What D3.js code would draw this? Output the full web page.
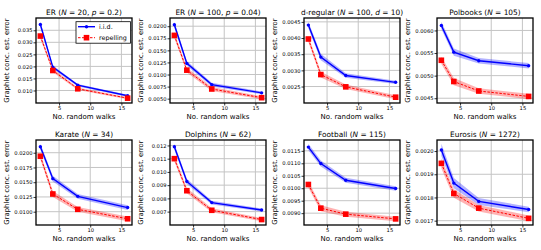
<!DOCTYPE html>
<html>
<head>
<meta charset="utf-8">
<script src="https://cdn.jsdelivr.net/npm/d3@7"></script>
<style>
body { margin: 0; background: #fff; }
svg { font-family: "DejaVu Sans", sans-serif; }
</style>
</head>
<body>
<div id="chart"></div>
<script>
// Data
const walks = [2, 4, 8, 16];
const xTicks = [5, 10, 15];

const titles = [
    "ER (N = 20, p = 0.2)", "ER (N = 100, p = 0.04)", "d-regular (N = 100, d = 10)", "Polbooks (N = 105)",
    "Karate (N = 34)", "Dolphins (N = 62)", "Football (N = 115)", "Eurosis (N = 1272)"
];

const iidMean = [
    [0.0374, 0.0197, 0.0122, 0.0078],
    [0.0203, 0.0123, 0.0079, 0.0062],
    [0.00440, 0.00341, 0.00284, 0.00263],
    [0.00611, 0.00552, 0.00533, 0.00522],
    [0.0210, 0.0156, 0.0126, 0.0107],
    [0.0119, 0.00928, 0.00768, 0.00712],
    [0.01165, 0.01099, 0.01032, 0.00999],
    [0.002005, 0.001862, 0.001783, 0.001748]
];
const iidErr = [
    [0.0011, 0.0007, 0.0005, 0.0004],
    [0.0006, 0.0005, 0.0004, 0.0003],
    [0.0001, 0.0001, 0.00007, 0.00005],
    [0.00008, 0.00008, 0.00006, 0.00006],
    [0.0005, 0.0005, 0.0004, 0.0004],
    [0.00022, 0.0002, 0.00015, 0.00012],
    [0.00013, 0.00012, 0.0001, 0.00009],
    [0.000026, 0.000022, 0.000015, 0.000012]
];
const repMean = [
    [0.0326, 0.0183, 0.0107, 0.0068],
    [0.0181, 0.0109, 0.0070, 0.0052],
    [0.00397, 0.00287, 0.00249, 0.00217],
    [0.00534, 0.00487, 0.00466, 0.00454],
    [0.0194, 0.0130, 0.0104, 0.0088],
    [0.0110, 0.00858, 0.00710, 0.00640],
    [0.01015, 0.00920, 0.00896, 0.00877],
    [0.001947, 0.001817, 0.001754, 0.001710]
];
const repErr = [
    [0.0011, 0.0007, 0.0005, 0.0004],
    [0.0006, 0.0005, 0.0004, 0.0003],
    [0.00009, 0.00009, 0.00007, 0.00006],
    [0.00008, 0.00008, 0.00006, 0.00006],
    [0.0005, 0.0005, 0.0004, 0.0004],
    [0.00022, 0.0002, 0.00015, 0.00012],
    [0.00013, 0.00012, 0.0001, 0.00009],
    [0.000022, 0.000018, 0.000014, 0.000012]
];
const yTickLabels = [
    ["0.010", "0.015", "0.020", "0.025", "0.030", "0.035"],
    ["0.0050", "0.0075", "0.0100", "0.0125", "0.0150", "0.0175", "0.0200"],
    ["0.0025", "0.0030", "0.0035", "0.0040", "0.0045"],
    ["0.0045", "0.0050", "0.0055", "0.0060"],
    ["0.0100", "0.0125", "0.0150", "0.0175", "0.0200"],
    ["0.007", "0.008", "0.009", "0.010", "0.011", "0.012"],
    ["0.0090", "0.0095", "0.0100", "0.0105", "0.0110", "0.0115"],
    ["0.0017", "0.0018", "0.0019", "0.0020"]
];
const seriesNames = ["i.i.d.", "repelling"];

// Layout
const canvas = { w: 541, h: 250 };
const lefts = [36, 170, 304, 437];
const tops = [18, 140];
const pw = 96, ph = 85;
const blue = "#0000ff", red = "#ff0000";

const svg = d3.select("#chart")
    .append("svg")
    .attr("width", canvas.w)
    .attr("height", canvas.h);

const x = d3.scaleLinear().domain([1.3, 16.7]).range([0, pw]);

titles.forEach((title, i) => {
    const col = i % 4, row = Math.floor(i / 4);
    const g = svg.append("g")
        .attr("transform", `translate(${lefts[col]},${tops[row]})`);

    const lo = d3.min([...iidMean[i].map((m, j) => m - iidErr[i][j]), ...repMean[i].map((m, j) => m - repErr[i][j])]);
    const hi = d3.max([...iidMean[i].map((m, j) => m + iidErr[i][j]), ...repMean[i].map((m, j) => m + repErr[i][j])]);
    const pad = (hi - lo) * 0.05;
    const y = d3.scaleLinear().domain([lo - pad, hi + pad]).range([ph, 0]);
    const yVals = yTickLabels[i].map(Number);

    // grid
    g.append("g").selectAll("line").data(xTicks).join("line")
        .attr("x1", d => x(d)).attr("x2", d => x(d))
        .attr("y1", 0).attr("y2", ph)
        .attr("stroke", "#c4c4c4").attr("stroke-width", 1);
    g.append("g").selectAll("line").data(yVals).join("line")
        .attr("y1", d => y(d)).attr("y2", d => y(d))
        .attr("x1", 0).attr("x2", pw)
        .attr("stroke", "#c4c4c4").attr("stroke-width", 1);

    const series = [
        { mean: iidMean[i], err: iidErr[i], color: blue, dash: null, w: 1.4 },
        { mean: repMean[i], err: repErr[i], color: red, dash: "2.5,1.5", w: 1 }
    ];

    series.forEach(s => {
        const pts = walks.map((w, j) => ({ w, m: s.mean[j], e: s.err[j] }));
        g.append("path")
            .datum(pts)
            .attr("d", d3.area().x(d => x(d.w)).y0(d => y(d.m - d.e)).y1(d => y(d.m + d.e)))
            .attr("fill", s.color).attr("fill-opacity", 0.3);
    });

    series.forEach((s, k) => {
        const pts = walks.map((w, j) => ({ w, m: s.mean[j] }));
        g.append("path")
            .datum(pts)
            .attr("d", d3.line().x(d => x(d.w)).y(d => y(d.m)))
            .attr("fill", "none")
            .attr("stroke", s.color)
            .attr("stroke-width", s.w)
            .attr("stroke-dasharray", s.dash);
        if (k === 0) {
            g.append("g").selectAll("circle").data(pts).join("circle")
                .attr("cx", d => x(d.w)).attr("cy", d => y(d.m))
                .attr("r", 1.7).attr("fill", s.color);
        } else {
            g.append("g").selectAll("rect").data(pts).join("rect")
                .attr("x", d => x(d.w) - 2.8).attr("y", d => y(d.m) - 2.8)
                .attr("width", 5.6).attr("height", 5.6).attr("fill", s.color);
        }
    });

    // frame
    g.append("rect")
        .attr("width", pw).attr("height", ph)
        .attr("fill", "none").attr("stroke", "#000").attr("stroke-width", 1.3);

    // axes
    const ax = g.append("g")
        .attr("transform", `translate(0,${ph})`)
        .call(d3.axisBottom(x).tickValues(xTicks).tickSize(2.5).tickPadding(1.3));
    const ay = g.append("g")
        .call(d3.axisLeft(y).tickValues(yVals).tickFormat((d, j) => yTickLabels[i][j]).tickSize(2.5).tickPadding(1));
    [ax, ay].forEach(a => {
        a.select(".domain").remove();
        a.selectAll("line").attr("stroke", "#000").attr("stroke-width", 0.8);
        a.selectAll("text").attr("font-size", 5.2).attr("font-family", "DejaVu Sans").attr("fill", "#000");
    });

    // title with italic symbols
    const t = g.append("text")
        .attr("x", pw / 2).attr("y", -3.3)
        .attr("text-anchor", "middle")
        .attr("font-size", 7.4);
    title.split(/([Npd])(?= =)/).forEach((part, j) => {
        if (!part) return;
        t.append("tspan").text(part).attr("font-style", j % 2 ? "italic" : null);
    });

    g.append("text")
        .attr("x", pw / 2).attr("y", ph + 16)
        .attr("text-anchor", "middle")
        .attr("font-size", 7)
        .text("No. random walks");

    g.append("text")
        .attr("transform", `translate(-27.5,${ph / 2}) rotate(-90)`)
        .attr("text-anchor", "middle")
        .attr("font-size", 6.9)
        .text("Graphlet conc. est. error");

    // legend only in first panel
    if (i === 0) {
        const lg = g.append("g").attr("transform", "translate(40,3.7)");
        lg.append("rect")
            .attr("width", 54.5).attr("height", 21.5)
            .attr("fill", "#fff").attr("stroke", "#000").attr("stroke-width", 0.8);
        seriesNames.forEach((name, k) => {
            const yy = 5 + k * 11;
            lg.append("line")
                .attr("x1", 2).attr("x2", 19).attr("y1", yy).attr("y2", yy)
                .attr("stroke", k ? red : blue)
                .attr("stroke-width", k ? 1 : 1.4)
                .attr("stroke-dasharray", k ? "2.5,1.5" : null);
            if (k) {
                lg.append("rect").attr("x", 10.5 - 2.8).attr("y", yy - 2.8)
                    .attr("width", 5.6).attr("height", 5.6).attr("fill", red);
            } else {
                lg.append("circle").attr("cx", 10.5).attr("cy", yy).attr("r", 1.7).attr("fill", blue);
            }
            lg.append("text")
                .attr("x", 23).attr("y", yy + 2.3)
                .attr("font-size", 6.4)
                .text(name);
        });
    }
});
</script>
</body>
</html>
